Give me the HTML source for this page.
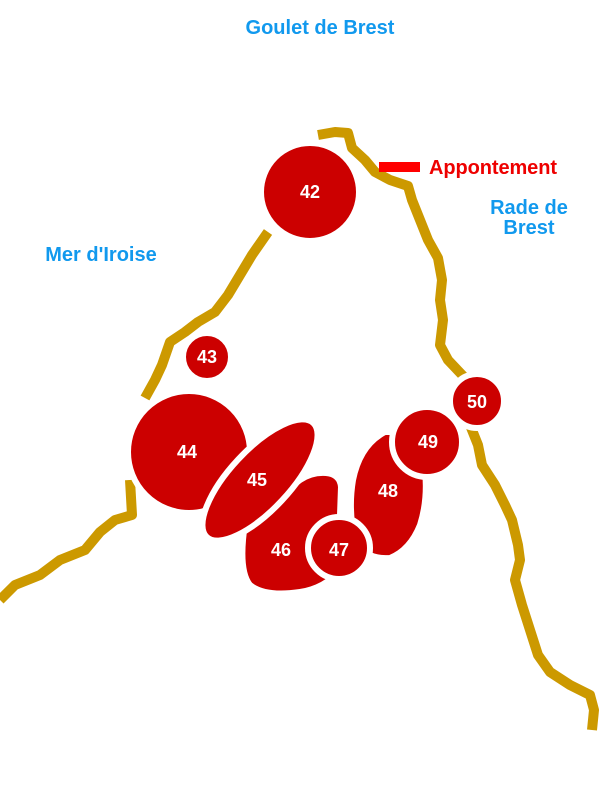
<!DOCTYPE html>
<html><head><style>
body{margin:0;background:#fff}
svg{display:block}
text{font-family:"Liberation Sans",sans-serif;font-weight:bold}
</style></head><body>
<svg width="600" height="800" viewBox="0 0 600 800">
<g fill="none" stroke="#cc9900" stroke-width="10" stroke-linejoin="round">
<path d="M0,600 L15,585 L40,575 L60,560 L85,550 L100,532 L115,520 L132,515 L130,480"/>
<path d="M145,398 L155,380 L162,365 L170,342 L185,332 L198,322 L215,312 L228,295 L240,275 L252,255 L268,232"/>
<path d="M318,135 L335,132 L348,133 L352,148 L365,160 L375,172 L390,180 L408,186 L412,200 L420,220 L428,240 L438,258 L442,280 L440,300 L443,320 L440,345 L448,360 L465,378"/>
<path d="M470,425 L478,445 L482,465 L495,485 L505,505 L512,520 L518,545 L520,560 L515,580 L522,605 L530,630 L538,655 L550,672 L570,685 L590,695 L594,710 L592,730"/>
</g>
<g fill="#cc0000" stroke="#fff" stroke-width="6">
<circle cx="310" cy="192" r="49"/>
<circle cx="207" cy="357" r="24"/>
<circle cx="189" cy="452" r="61"/>
<path d="M245,523 Q238,570 250,585 Q265,597 300,592 Q325,588 340,570 L340,515 L341,487 Q340,474 326,473 Q312,472 300,480 Z"/>
<ellipse cx="260" cy="480" rx="78" ry="30" transform="rotate(-47 260 480)"/>
<path d="M385,432 Q360,445 353,480 Q348,510 355,540 Q365,560 390,558 Q410,550 420,525 Q428,500 425,470 L400,432 Z"/>
<circle cx="339" cy="548" r="31"/>
<circle cx="427" cy="442" r="35"/>
<circle cx="477" cy="401" r="27"/>
</g>
<g fill="#fff" font-size="18" text-anchor="middle">
<text x="310" y="198">42</text>
<text x="207" y="363">43</text>
<text x="187" y="458">44</text>
<text x="257" y="486">45</text>
<text x="281" y="556">46</text>
<text x="339" y="556">47</text>
<text x="388" y="497">48</text>
<text x="428" y="448">49</text>
<text x="477" y="408">50</text>
</g>
<rect x="379" y="162" width="41" height="10" fill="#ff0000"/>
<text x="429" y="174" fill="#ee0000" font-size="20" textLength="128">Appontement</text>
<g fill="#1199ee" font-size="20" text-anchor="middle">
<text x="320" y="34">Goulet de Brest</text>
<text x="101" y="261">Mer d'Iroise</text>
<text x="529" y="214">Rade de</text>
<text x="529" y="234">Brest</text>
</g>
</svg>
</body></html>
